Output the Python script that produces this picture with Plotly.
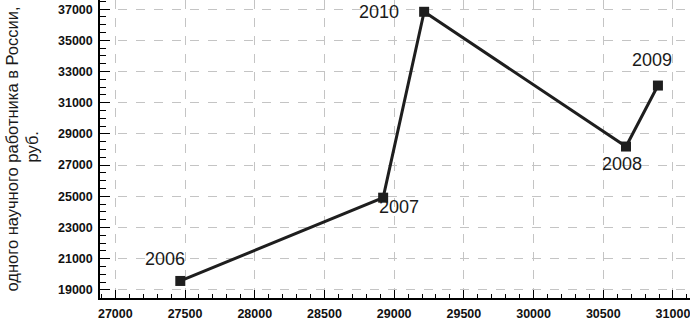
import plotly.graph_objects as go

years = ["2006", "2007", "2010", "2008", "2009"]
x_vals = [27466, 28921, 29215, 30663, 30892]
y_vals = [19570, 24910, 36830, 28190, 32100]

x_ticks = [27000, 27500, 28000, 28500, 29000, 29500, 30000, 30500, 31000]
y_ticks = [19000, 21000, 23000, 25000, 27000, 29000, 31000, 33000, 35000, 37000]
y_title_line1 = "одного научного работника в России,"
y_title_line2 = "руб."

# label offsets (pixels) relative to each point
label_dx = [-15, 16, -45, -4, -6]
label_dy = [22, -9, 0, -17, 26]

fig = go.Figure()
fig.add_trace(go.Scatter(
    x=x_vals, y=y_vals, mode="lines+markers",
    line=dict(color="#1e1e1e", width=3),
    marker=dict(symbol="square", size=10, color="#1e1e1e"),
    cliponaxis=False,
))

label_font = dict(family="Liberation Sans, Arial", size=18, color="#1a1a1a")
for xv, yv, t, dx, dy in zip(x_vals, y_vals, years, label_dx, label_dy):
    fig.add_annotation(x=xv, y=yv, text=t, showarrow=False, font=label_font,
                       xanchor="center", yanchor="middle", xshift=dx, yshift=dy)

tickfont = dict(family="Liberation Sans, Arial", size=12.5, color="#111", weight="bold")
fig.update_layout(
    width=690, height=321,
    margin=dict(l=100, r=0, t=0, b=18),
    paper_bgcolor="white", plot_bgcolor="white",
    showlegend=False,
    xaxis=dict(
        range=[26890, 31122], tickvals=x_ticks, ticktext=[str(v) for v in x_ticks],
        ticks="inside", ticklen=8, tickcolor="black", tickwidth=1,
        showline=True, linecolor="black", linewidth=1.5,
        showgrid=True, gridcolor="#c4c4c4", griddash="dash", gridwidth=1,
        zeroline=False, tickfont=tickfont, ticklabelstandoff=3,
        ticklabeloverflow="allow",
        minor=dict(dtick=100, tick0=27000, ticks="inside", ticklen=4, tickcolor="black", showgrid=False),
    ),
    yaxis=dict(
        range=[18477, 37586], tickvals=y_ticks, ticktext=[str(v) for v in y_ticks],
        ticks="inside", ticklen=10, tickcolor="black", tickwidth=1,
        showline=True, linecolor="black", linewidth=1.5,
        showgrid=True, gridcolor="#c4c4c4", griddash="dash", gridwidth=1,
        zeroline=False, tickfont=tickfont, ticklabelstandoff=3,
        minor=dict(dtick=500, tick0=19000, ticks="inside", ticklen=6, tickcolor="black", showgrid=False),
    ),
)

title_font = dict(family="Liberation Sans, Arial", size=16.5, color="#1a1a1a")
fig.add_annotation(text=y_title_line1, textangle=-90, xref="paper", yref="paper",
                   x=-100/590, y=1 - 152/303, xanchor="left", yanchor="middle",
                   showarrow=False, font=title_font, xshift=1)
fig.add_annotation(text=y_title_line2, textangle=-90, xref="paper", yref="paper",
                   x=-100/590, y=1 - 150/303, xanchor="left", yanchor="middle",
                   showarrow=False, font=title_font, xshift=21)

fig.write_html("out.html", config={"displayModeBar": False},
               post_script="document.body.style.margin='0';")
